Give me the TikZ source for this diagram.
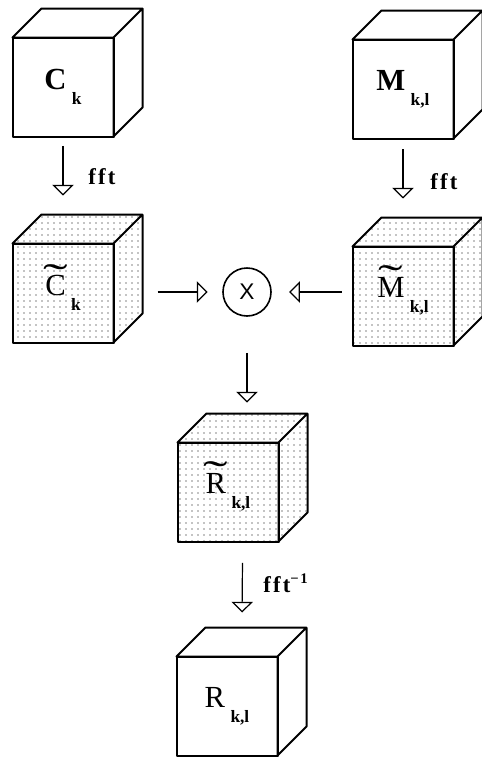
\documentclass[tikz,border=0pt]{standalone}
\usepackage{fontspec}
\setmainfont{Liberation Serif}
\setsansfont{Liberation Sans}
\usepackage{graphicx}
\usepackage{tikz}
\usetikzlibrary{arrows.meta,calc,patterns.meta}

\tikzset{
  cube/.style={draw, line width=1.5pt, line join=round, outer sep=0pt, inner sep=0pt,
    minimum width=75.75pt, minimum height=74.25pt},
  dotcube/.style={cube, pattern={Dots[distance=4.5pt,radius=0.55pt]}, pattern color=black},
  dots/.style={pattern={Dots[distance=4.5pt,radius=0.55pt]}, pattern color=black},
  flow/.style={line width=0.9pt, -{Triangle[open,width=16pt,length=8pt,line width=0.9pt]}},
  fftlbl/.style={font=\fontsize{17}{17}\selectfont\bfseries\addfontfeature{LetterSpace=10}, inner sep=0pt},
}
% letter with its index set low
\newcommand\cubelabel[2]{{\fontsize{23}{23}\selectfont #1}\hspace{4pt}\raisebox{-11pt}{\fontsize{13}{13}\selectfont\bfseries #2}}
% wide tilde over a letter
\newcommand\tildeover[1]{\ooalign{#1\cr\hidewidth\raisebox{3.5pt}{\scalebox{2.4}[1.3]{\char"02DC}}\hidewidth\cr}}
% top and side faces of a cube, drawn behind the front node
\newcommand\cubedepth[2][]{%
  \draw[line width=1.5pt, line join=round, #1] (#2.north west) -- ([shift={(29,-29)}]#2.north west)
    -- ([shift={(29,-29)}]#2.north east) -- ([shift={(29,-29)}]#2.south east) -- (#2.south east)
    -- (#2.north east) -- cycle (#2.north east) -- ([shift={(29,-29)}]#2.north east);
}

\begin{document}
\begin{tikzpicture}[x=0.75pt, y=-0.75pt]
    \useasboundingbox (0,0) rectangle (482,757);
    % Input cubes
    \node[cube] (C) at (63,87) {\cubelabel{\textbf{C}}{k}};
    \cubedepth{C}
    \node[cube] (M) at (403,89) {\cubelabel{\textbf{M}}{k,l}};
    \cubedepth{M}
    % Transformed cubes
    \node[dotcube] (Ct) at (63,293) {\cubelabel{\tildeover{C}}{k}};
    \cubedepth[dots]{Ct}
    \node[dotcube] (Mt) at (403,296) {\cubelabel{\tildeover{M}}{k,l}};
    \cubedepth[dots]{Mt}
    % Product
    \node[draw, circle, line width=1.2pt, minimum size=36pt, inner sep=0pt,
      font=\sffamily\fontsize{17}{17}\selectfont] (X) at (247,292) {X};
    \node[dotcube] (Rt) at (228,492) {\cubelabel{\tildeover{R}}{k,l}};
    \cubedepth[dots]{Rt}
    % Result
    \node[cube] (R) at (227,706) {\cubelabel{R}{k,l}};
    \cubedepth{R}
    % Arrows
    \draw[flow, shorten <=7pt, shorten >=36pt] (C.south) -- (Ct.north);
    \draw[flow, shorten <=8pt, shorten >=36pt] (M.south) -- (Mt.north);
    \draw[flow, shorten <=33pt, shorten >=11pt] (Ct.east |- X) -- (X.west);
    \draw[flow, shorten <=8pt, shorten >=13pt] (Mt.west |- X) -- (X.east);
    \draw[flow, shorten <=27pt, shorten >=30pt] (X.south) -- (X.south |- Rt.north);
    \draw[flow, shorten <=16pt, shorten >=33pt] ([xshift=11pt]Rt.south) -- ([xshift=11pt]R.north);
    % Labels
    \node[fftlbl, anchor=west] (f1) at (88,177) {fft};
    \node[fftlbl, anchor=west] (f2) at (430,182) {fft};
    \node[fftlbl, anchor=west] (f3) at (263,583) {fft\raisebox{7pt}{\fontsize{11}{11}\selectfont −1}};
\end{tikzpicture}
\end{document}
